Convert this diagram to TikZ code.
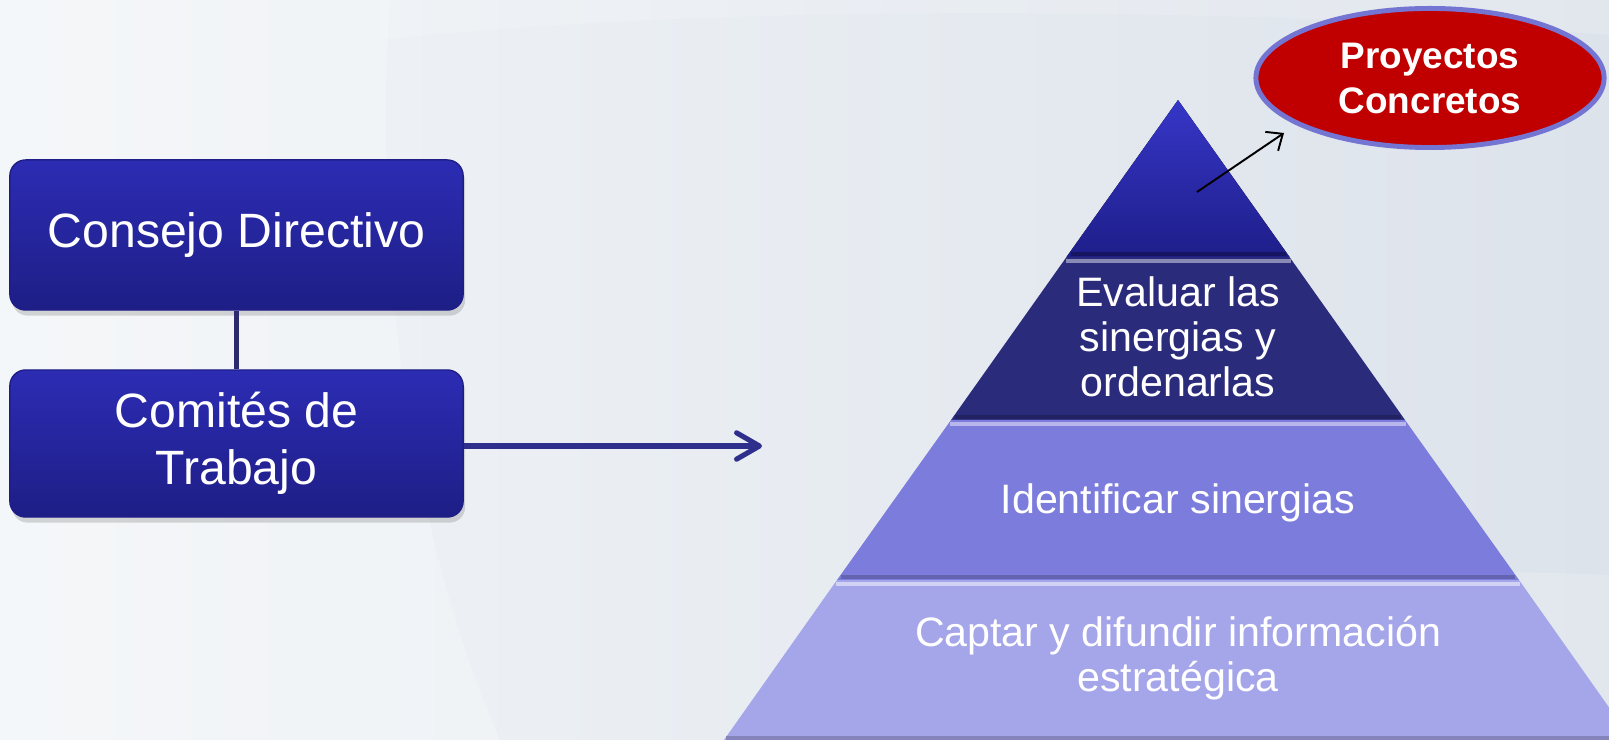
\documentclass[tikz,border=0pt]{standalone}
\usepackage{fontspec}
\setmainfont{Liberation Sans}
\usepackage{xcolor}
\usetikzlibrary{shapes.geometric, arrows.meta, positioning, shadows, calc}

\definecolor{bgleft}{RGB}{242,245,248}
\definecolor{bgright}{RGB}{221,227,235}
\definecolor{boxtop}{RGB}{44,44,180}
\definecolor{boxbot}{RGB}{30,30,134}
\definecolor{linknavy}{RGB}{42,42,108}
\definecolor{arrownavy}{RGB}{46,46,140}
\definecolor{tieronetop}{RGB}{54,54,200}
\definecolor{tieronebot}{RGB}{30,30,138}
\definecolor{tiertwo}{RGB}{43,43,124}
\definecolor{tierthree}{RGB}{124,124,220}
\definecolor{tierfour}{RGB}{165,165,234}
\definecolor{proyred}{RGB}{192,0,0}
\definecolor{proyedge}{RGB}{116,116,210}

\begin{document}
\begin{tikzpicture}[x=0.01cm, y=-0.01cm]
    % Styles
    \tikzstyle{block} = [rectangle, rounded corners=4.5pt, top color=boxtop, bottom color=boxbot, draw=boxbot, text=white, align=center, minimum width=4.53cm, inner sep=0pt, font=\fontsize{13.7}{16.2}\selectfont, drop shadow={opacity=0.3, shadow xshift=0.6pt, shadow yshift=-1.6pt}]
    \tikzstyle{tiertext} = [text=white, align=center, inner sep=0pt, font=\fontsize{11.7}{12.8}\selectfont]
    \tikzstyle{goal} = [ellipse, fill=proyred, draw=proyedge, line width=1.4pt, minimum width=3.48cm, minimum height=1.39cm, inner sep=0pt, text=white, align=center, font=\bfseries\fontsize{10.5}{12.8}\selectfont]
    \tikzstyle{link} = [linknavy, line width=1.15pt]
    \tikzstyle{arrow} = [arrownavy, line width=1.45pt, -{Straight Barb[length=6.5pt, width=7.5pt, round]}]
    \tikzstyle{thinarrow} = [black, line width=0.55pt, -{Straight Barb[length=3.8pt, width=6.5pt]}]

    % Background
    \useasboundingbox (0,0) rectangle (1609,740);
    \clip (0,0) rectangle (1609,740);
    \fill[left color=bgleft, right color=bgright] (0,0) rectangle (1609,740);
    \fill[white, opacity=0.22] (0,0) -- (390,0) .. controls (370,280) and (420,560) .. (500,740) -- (0,740) -- cycle;
    \fill[white, opacity=0.15] (380,40) .. controls (700,5) and (1200,5) .. (1609,35) -- (1609,0) -- (380,0) -- cycle;
    \fill[white, opacity=0.15] (900,740) .. controls (1000,600) and (1300,560) .. (1609,575) -- (1609,740) -- cycle;

    % Pyramid
    \coordinate (apex) at (1178,100);
    \coordinate (t1l) at (1066.5,257); \coordinate (t1r) at (1289.5,257);
    \coordinate (t2l) at (951,420);    \coordinate (t2r) at (1405,420);
    \coordinate (t3l) at (837,580);    \coordinate (t3r) at (1519,580);
    \coordinate (t4l) at (724,740);    \coordinate (t4r) at (1632,740);
    \fill[top color=tieronetop, bottom color=tieronebot] (apex) -- (t1r) -- (t1l) -- cycle;
    \fill[tiertwo] (t1l) -- (t1r) -- (t2r) -- (t2l) -- cycle;
    \fill[tierthree] (t2l) -- (t2r) -- (t3r) -- (t3l) -- cycle;
    \fill[tierfour] (t3l) -- (t3r) -- (t4r) -- (t4l) -- cycle;
    % bevels
    \draw[tieronebot!70!black, line width=1.2pt] ($(t1l)+(4,-3)$) -- ($(t1r)+(-4,-3)$);
    \draw[tiertwo!55!white, line width=1.4pt] ($(t1l)+(-1,4)$) -- ($(t1r)+(1,4)$);
    \draw[tiertwo!80!black, line width=1.2pt] ($(t2l)+(4,-3)$) -- ($(t2r)+(-4,-3)$);
    \draw[tierthree!55!white, line width=1.4pt] ($(t2l)+(-1,4)$) -- ($(t2r)+(1,4)$);
    \draw[tierthree!80!black, line width=1.2pt] ($(t3l)+(4,-3)$) -- ($(t3r)+(-4,-3)$);
    \draw[tierfour!50!white, line width=1.4pt] ($(t3l)+(-1,4)$) -- ($(t3r)+(1,4)$);
    \draw[tierfour!80!black, line width=1.2pt] ($(t4l)+(2,-2)$) -- ($(t4r)+(-2,-2)$);

    % Pyramid levels
    \node[tiertext] (evaluar) at (1178,337) {Evaluar las\\sinergias y\\ordenarlas};
    \node[tiertext] (identificar) at (1178,503) {Identificar sinergias};
    \node[tiertext] (captar) at (1178,658) {Captar y difundir información\\estratégica};

    % Organisation
    \node[block, minimum height=1.5cm] (consejo) at (236.5,235) {Consejo Directivo};
    \node[block, minimum height=1.47cm] (comites) at (236.5,443.5) {Comités de\\Trabajo};

    % Goal
    \node[goal] (proyectos) at (1430,78) {Proyectos\\Concretos};

    % Arrows
    \coordinate (target) at (762,446);
    \coordinate (tipstart) at (1197,192);
    \coordinate (tipend) at (1284,133);
    \draw[link] (consejo) -- (comites);
    \draw[arrow] (comites.east |- target) -- (target);
    \draw[thinarrow] (tipstart) -- (tipend);
\end{tikzpicture}
\end{document}
